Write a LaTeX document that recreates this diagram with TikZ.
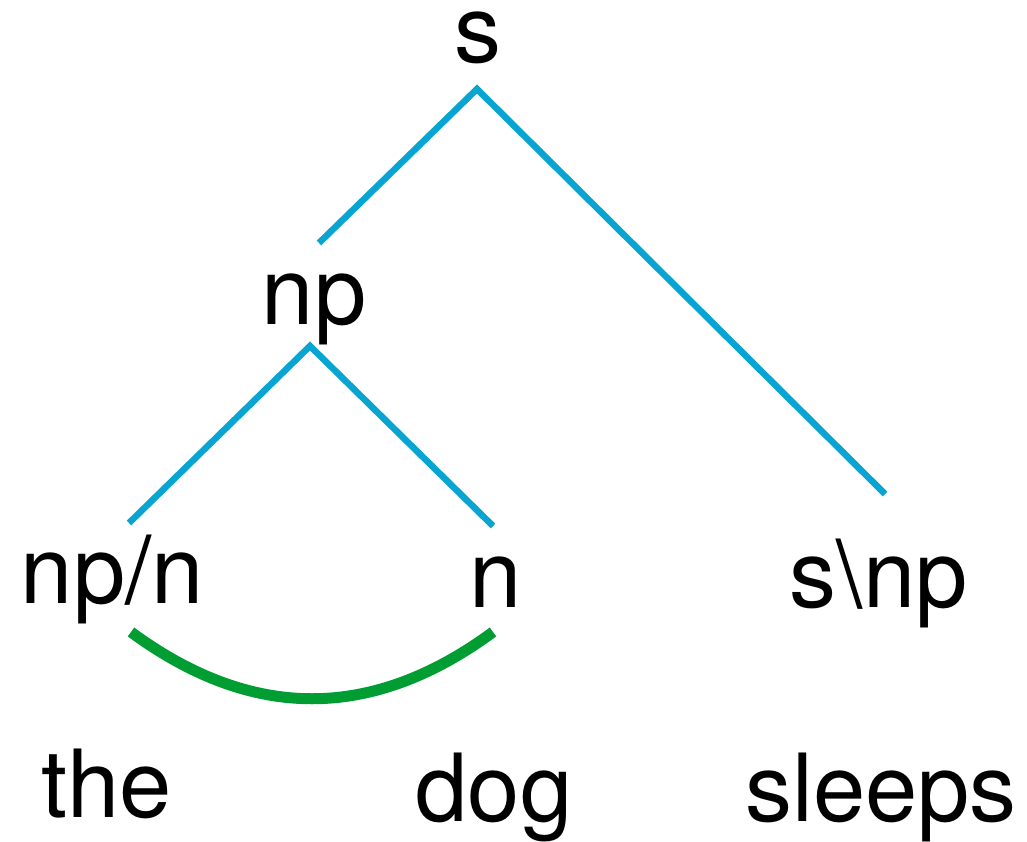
\documentclass[tikz,border=0pt]{standalone}
\usepackage{fontspec}
\setmainfont{TeX Gyre Heros}
\definecolor{treeblue}{RGB}{8,164,210}
\definecolor{arcgreen}{RGB}{0,158,50}
\begin{document}
\begin{tikzpicture}[x=1pt,y=-1pt,
  lbl/.style={anchor=base,inner sep=0pt,font=\fontsize{94}{100}\selectfont},
  branch/.style={draw=treeblue,line width=6.5pt,line cap=butt,line join=miter},
  link/.style={draw=arcgreen,line width=11pt,line cap=butt}]
\useasboundingbox (0,0) rectangle (1027,842);
% labels
\node[lbl] (s) at (478,63) {s};
\node[lbl] (np) at (314,324) {np};
\node[lbl] (npn) at (112,603) {np/n};
\node[lbl] (n) at (496,607) {n};
\node[lbl] (snp) at (879,607) {s\textbackslash np};
\node[lbl] (the) at (107,817) {the};
\node[lbl] (dog) at (494,821) {dog};
\node[lbl] (sleeps) at (881,821) {sleeps};
% branch points
\coordinate (sTop) at (477,89);
\coordinate (sL) at (319,243);
\coordinate (sR) at (885,494);
\coordinate (npTop) at (310,346);
\coordinate (npL) at (129,523);
\coordinate (npR) at (493,526);
\draw[branch] (sL) -- (sTop) -- (sR);
\draw[branch] (npL) -- (npTop) -- (npR);
% green link
\coordinate (gL) at (131,632);
\coordinate (gR) at (493,632);
\coordinate (gC1) at (252,721);
\coordinate (gC2) at (372,721);
\draw[link] (gL) .. controls (gC1) and (gC2) .. (gR);
\end{tikzpicture}
\end{document}
